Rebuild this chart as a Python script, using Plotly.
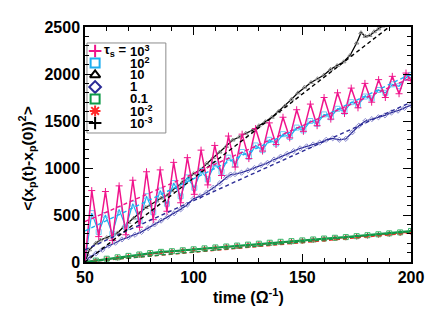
import plotly.graph_objects as go

# ---------------- data ----------------
t_osc = [50.0, 53.1, 56.3, 59.4, 62.6, 65.7, 68.8, 72.0, 75.1, 78.3, 81.4, 84.6,
         87.7, 90.8, 94.0, 97.1, 100.3, 103.4, 106.5, 109.7, 112.8, 116.0, 119.1,
         122.3, 125.4, 128.5, 131.7, 134.8, 137.9, 141.1, 144.2, 147.4, 150.5,
         153.7, 156.8, 160.0, 163.1, 166.2, 169.4, 172.5, 175.6, 178.8, 181.9,
         185.1, 188.2, 191.4, 194.5, 197.7, 200.0]
v_tau1e3 = [0, 760, 270, 750, 230, 810, 290, 870, 370, 960, 450, 980,
            540, 1060, 630, 1110, 720, 1190, 820, 1240, 920, 1340, 1010,
            1360, 1100, 1420, 1180, 1480, 1250, 1540, 1320, 1620, 1390,
            1680, 1450, 1750, 1520, 1800, 1580, 1850, 1640, 1900, 1700,
            1940, 1750, 1975, 1790, 2010, 1930]
v_tau1e2 = [0, 520, 320, 500, 300, 560, 370, 620, 440, 700, 530, 760,
            620, 840, 700, 900, 790, 970, 880, 1040, 960, 1110, 1040,
            1170, 1120, 1240, 1190, 1300, 1260, 1360, 1330, 1430, 1400,
            1500, 1470, 1570, 1540, 1630, 1600, 1700, 1670, 1760, 1740,
            1830, 1800, 1890, 1870, 1960, 1990]

t_mid = [50, 52, 55, 57, 60, 63, 65, 68, 70, 72.5, 75, 78, 80, 83, 85, 88, 90,
         93, 95, 98, 100, 103, 106, 109, 112, 115, 118, 121, 124, 127, 130, 133,
         136, 139, 142, 145, 148, 151, 154, 157, 160, 163, 166, 169, 172, 175,
         177, 179, 181, 183, 185, 187, 190]
v_tau10 = [0, 130, 200, 234, 260, 290, 310, 380, 420, 468, 520, 580, 606, 650,
           680, 713, 760, 810, 854, 900, 940, 979, 1050, 1110, 1170, 1230, 1298,
           1330, 1370, 1400, 1450, 1493, 1540, 1600, 1660, 1730, 1800, 1860,
           1910, 1950, 1990, 2050, 2090, 2130, 2200, 2330, 2440, 2400, 2410,
           2450, 2480, 2510, 2570]

t_tau1 = [50, 52, 55, 58, 61, 64, 67, 70, 73, 76, 79, 82, 85, 88, 91, 94, 97,
          100, 103, 106, 109, 112, 115, 117, 119, 122, 125, 128, 131, 134, 137,
          140, 143, 146, 149, 152, 155, 158, 161, 164, 167, 170, 173, 176, 179,
          182, 185, 188, 191, 194, 197, 200]
v_tau1 = [0, 50, 90, 130, 175, 205, 240, 265, 290, 320, 360, 400, 440, 480,
          518, 560, 610, 675, 700, 740, 790, 837, 900, 930, 935, 950, 975, 1000,
          1030, 1055, 1090, 1120, 1150, 1180, 1209, 1230, 1250, 1270, 1300,
          1316, 1300, 1310, 1380, 1450, 1500, 1520, 1540, 1560, 1590, 1610,
          1640, 1670]

t_small = [50, 55, 60, 65, 70, 75, 80, 85, 90, 95, 100, 105, 110, 115, 120,
           125, 130, 135, 140, 145, 150, 155, 160, 165, 170, 175, 180, 185,
           190, 195, 200]
v_tau01 = [0, 15, 35, 50, 65, 80, 95, 108, 115, 125, 135, 145, 155, 165, 175,
           185, 195, 205, 215, 222, 230, 240, 250, 258, 265, 275, 285, 295,
           305, 315, 330]
v_tau1em2 = [0, 12, 30, 45, 60, 75, 88, 100, 110, 120, 130, 140, 150, 160,
             168, 178, 188, 198, 207, 215, 224, 233, 242, 250, 258, 268, 278,
             287, 297, 306, 318]
v_tau1em3 = [0, 14, 32, 47, 62, 77, 91, 104, 112, 122, 132, 142, 152, 162,
             171, 181, 191, 201, 211, 218, 227, 236, 246, 254, 262, 271, 281,
             291, 301, 310, 322]

# dashed fit lines: value at start and end time
t_fit = [50, 200]
fit_tau1e3 = [430, 1960]
fit_tau1e2 = [330, 2000]
fit_tau10 = [0, 2680]
fit_tau1 = [130, 1700]
fit_tau01 = [0, 320]
fit_tau1em2 = [0, 310]

legend_labels = ["10<sup>3</sup>", "10<sup>2</sup>", "10", "1", "0.1",
                 "10<sup>-2</sup>", "10<sup>-3</sup>"]

# ---------------- styles ----------------
PINK = "#F0148C"
CYAN = "#1EAEF0"
BLACK = "#000000"
NAVY = "#2B2B96"
GREEN = "#0E9A48"
RED = "#FF2828"
FONT = "Liberation Sans, Arial, Helvetica, sans-serif"

fig = go.Figure()

series = [
    (t_small, v_tau1em3, BLACK, "#404040", "cross-thin", 4, 1.0),
    (t_small, v_tau1em2, RED, RED, "asterisk-open", 4, 1.0),
    (t_small, v_tau01, GREEN, "#3CB86A", "square-open", 5, 2.0),
    (t_tau1, v_tau1, NAVY, "#8C8CD0", "diamond-open", 4, 1.3),
    (t_mid, v_tau10, BLACK, "#8A8A8A", "triangle-up-open", 4, 1.3),
    (t_osc, v_tau1e2, CYAN, "#6CCDF5", "square-open", 5, 1.2),
    (t_osc, v_tau1e3, PINK, PINK, "cross-thin", 5, 1.5),
]
fits = [
    (fit_tau1em2, RED), (fit_tau01, GREEN), (fit_tau1, NAVY),
    (fit_tau10, BLACK), (fit_tau1e2, CYAN), (fit_tau1e3, PINK),
]

for tt, vv, lc, mc, sym, ms, lw in series:
    fig.add_trace(go.Scatter(
        x=tt, y=vv, mode="lines+markers", showlegend=False,
        line=dict(color=lc, width=lw),
        marker=dict(symbol=sym, size=ms, color=mc, line=dict(color=mc, width=1)),
    ))
for fv, col in fits:
    fig.add_trace(go.Scatter(
        x=t_fit, y=fv, mode="lines", showlegend=False,
        line=dict(color=col, width=1.4, dash="4px,3px"),
    ))

# ---------------- hand-made legend ----------------
leg_syms = [("cross-thin", PINK, 9), ("square-open", CYAN, 9),
            ("triangle-up-open", BLACK, 9), ("diamond-open", NAVY, 9),
            ("square-open", GREEN, 9), ("asterisk-open", RED, 9),
            ("cross-thin", BLACK, 9)]
row_top = 0.898
row_step = 12.0 / 235.0
sym_x = 0.031
for i, (sym, col, sz) in enumerate(leg_syms):
    yy = row_top - i * row_step
    fig.add_trace(go.Scatter(
        x=[sym_x], y=[yy], xaxis="x2", yaxis="y2", mode="markers",
        showlegend=False, cliponaxis=False,
        marker=dict(symbol=sym, size=sz, color=col, line=dict(color=col, width=2)),
    ))
    fig.add_annotation(
        x=0.133, y=yy, xref="paper", yref="paper", text=legend_labels[i],
        showarrow=False, xanchor="left", yanchor="middle",
        font=dict(family=FONT, size=13, color="black", weight="bold"),
    )
fig.add_annotation(
    x=0.052, y=row_top, xref="paper", yref="paper", text="τ<sub>s</sub> =",
    showarrow=False, xanchor="left", yanchor="middle",
    font=dict(family=FONT, size=13, color="black", weight="bold"),
)
fig.add_shape(type="rect", xref="paper", yref="paper", x0=0.006, x1=0.248,
              y0=0.549, y1=0.932, line=dict(color="#8C8C8C", width=1),
              fillcolor="white", layer="below")

# axis titles
fig.add_annotation(
    x=0.5, y=-0.145, xref="paper", yref="paper", text="time (Ω<sup>-1</sup>)",
    showarrow=False, xanchor="center", yanchor="middle",
    font=dict(family=FONT, size=16, color="black", weight="bold"),
)
fig.add_annotation(
    x=-0.178, y=0.443, xref="paper", yref="paper", textangle=-90,
    text="&lt;(x<sub>p</sub>(t)-x<sub>p</sub>(0))<sup>2</sup>&gt;",
    showarrow=False, xanchor="center", yanchor="middle",
    font=dict(family=FONT, size=15.5, color="black", weight="bold"),
)

axis_common = dict(
    ticks="inside", ticklen=8, tickwidth=1.3, tickcolor="black",
    showline=True, linewidth=1.5, linecolor="black", mirror="allticks",
    showgrid=False, zeroline=False,
    tickfont=dict(family=FONT, size=16, color="black", weight="bold"),
)
# the page body adds an 8 px offset, so margins are reduced by 8 px on top/left
fig.update_layout(
    width=436, height=315,
    margin=dict(l=77, r=33, t=19, b=61),
    paper_bgcolor="white", plot_bgcolor="white",
    showlegend=False,
    xaxis=dict(range=[50, 200], tick0=50, dtick=50,
               minor=dict(dtick=10, ticklen=4, ticks="inside", tickcolor="black",
                          tickwidth=1.2),
               **axis_common),
    yaxis=dict(range=[0, 2500], tick0=0, dtick=500,
               minor=dict(dtick=100, ticklen=4, ticks="inside", tickcolor="black",
                          tickwidth=1.2),
               **axis_common),
    xaxis2=dict(overlaying="x", range=[0, 1], visible=False, anchor="y2"),
    yaxis2=dict(overlaying="y", range=[0, 1], visible=False, anchor="x2"),
)

fig.write_html("out.html")
